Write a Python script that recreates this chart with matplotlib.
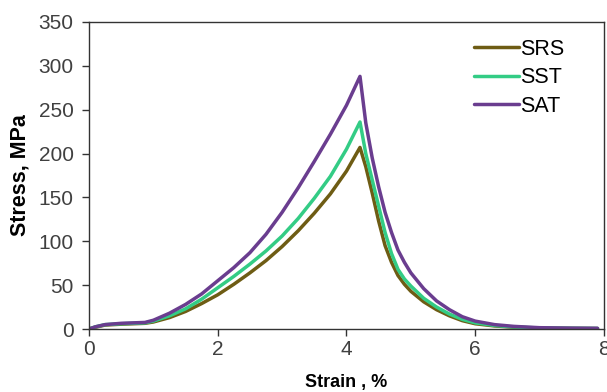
import numpy as np
import matplotlib.pyplot as plt

# データ-----------------------------------------------------------------
strain = [0, 0.1, 0.25, 0.5, 0.87, 1.0, 1.25, 1.5, 1.75, 2.0, 2.25, 2.5, 2.75,
          3.0, 3.25, 3.5, 3.75, 4.0, 4.21,
          4.3, 4.4, 4.5, 4.6, 4.7, 4.8, 4.9, 5.0, 5.2, 5.4, 5.6, 5.8, 6.0,
          6.3, 6.6, 7.0, 7.5, 7.9]

srs = [0, 2, 4.5, 5.5, 6.5, 8, 13, 20, 29, 39, 51, 64, 78,
       94, 112, 132, 154, 180, 207,
       185, 155, 123, 95, 76, 61, 51, 43, 31, 22, 15, 9.5, 6,
       3.5, 2, 1, 0.7, 0.5]

sst = [0, 2.5, 5, 6, 7, 9, 15, 23, 34, 47, 60, 74, 89,
       106, 126, 149, 174, 205, 236,
       200, 170, 140, 110, 86, 68, 57, 49, 35, 25, 17, 11, 7,
       4, 2.3, 1.2, 0.8, 0.6]

sat = [0, 2.5, 5, 6.5, 7.5, 10, 18, 28, 40, 55, 70, 87, 108,
       133, 161, 191, 222, 255, 288,
       235, 195, 162, 133, 110, 90, 76, 64, 46, 32, 22, 14, 9,
       5, 3, 1.5, 1, 0.8]

names = ['SRS', 'SST', 'SAT']
colors = ['#6e5c14', '#33cc85', '#6a3d8f']

# グラフ出力-------------------------------------------------------------
plt.rcParams['font.family'] = ['Liberation Sans', 'DejaVu Sans']

fig = plt.figure(figsize=(6.07, 3.92), dpi=100)
ax = fig.add_axes([0.1466, 0.1607, 0.8484, 0.7832])

for y, name, c in zip([srs, sst, sat], names, colors):
    ax.plot(strain, y, color=c, lw=2.5, label=name, solid_capstyle='round')

ax.set_xlim(0, 8)
ax.set_ylim(0, 350)
ax.set_xticks(np.arange(0, 9, 2))
ax.set_yticks(np.arange(0, 351, 50))
ax.tick_params(direction='out', length=5, width=1, labelsize=15,
               labelcolor='#404040', color='#333333')
ax.tick_params(axis='y', pad=6)
ax.tick_params(axis='x', pad=3)
for s in ax.spines.values():
    s.set_color('#333333')
    s.set_linewidth(1)

ax.set_xlabel('Strain , %', fontsize=13, fontweight='bold', labelpad=11)
ax.set_ylabel('Stress, MPa', fontsize=15.5, fontweight='bold', labelpad=6)

ax.legend(loc='upper left', bbox_to_anchor=(0.718, 0.995), frameon=False,
          fontsize=15.5, handlelength=2.1, handletextpad=0.05,
          labelspacing=0.35, borderaxespad=0.3)

fig.savefig('out.png', dpi=100)
